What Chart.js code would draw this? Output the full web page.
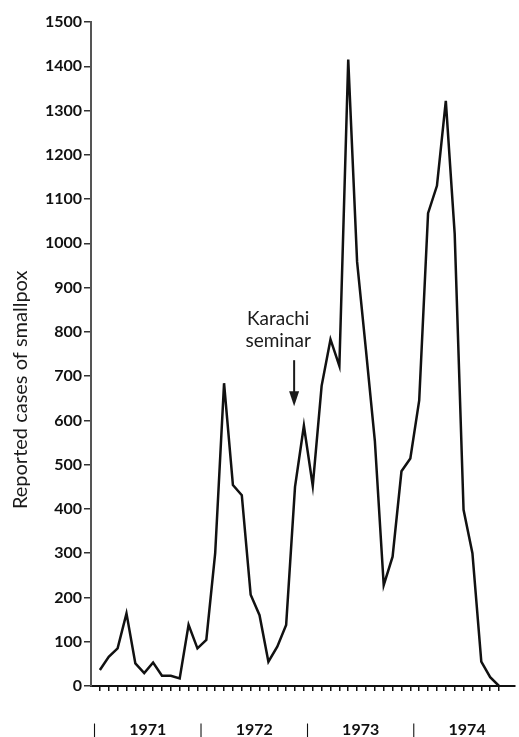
<!DOCTYPE html>
<html>
<head>
<meta charset="utf-8">
<script src="https://cdn.jsdelivr.net/npm/chart.js@4.4.1/dist/chart.umd.min.js"></script>
<style>
  html, body { margin: 0; padding: 0; background: #fff; }
  #chartWrap { width: 519px; height: 737px; }
</style>
</head>
<body>
<div id="chartWrap"><canvas id="smallpoxChart"></canvas></div>
<script>
// monthly reported smallpox cases
const years = ['1971', '1972', '1973', '1974'];
const monthNames = ['Jan', 'Feb', 'Mar', 'Apr', 'May', 'Jun', 'Jul', 'Aug', 'Sep', 'Oct', 'Nov', 'Dec'];
const cases1971 = [36, 66, 85, 164, 51, 29, 53, 23, 23, 17, 138, 85];
const cases1972 = [104, 300, 684, 454, 431, 206, 160, 55, 89, 138, 450, 588];
const cases1973 = [452, 678, 783, 723, 1415, 958, 758, 554, 228, 292, 485, 514];
const cases1974 = [645, 1068, 1130, 1322, 1022, 398, 300, 55, 20, 0];
const yTicks = [0, 100, 200, 300, 400, 500, 600, 700, 800, 900, 1000, 1100, 1200, 1300, 1400, 1500];

const cases = [...cases1971, ...cases1972, ...cases1973, ...cases1974];
const monthLabels = years.flatMap(yr => monthNames.map(m => m + ' ' + yr)).slice(0, cases.length);

// x is month index (0 = Jan 1971)
const xMin = -1;
const xMax = 46.8;
const noteMonth = 21.9;      // arrow points at Nov 1972
const noteTextMonth = 20.1;

const fontFamily = 'Lato, "Open Sans", sans-serif';

const karachiNote = {
    id: 'karachiNote',
    afterDatasetsDraw(chart) {
        const { ctx, scales: { x, y } } = chart;
        ctx.save();
        ctx.fillStyle = '#1a1a1a';
        ctx.strokeStyle = '#1a1a1a';
        ctx.font = '19px ' + fontFamily;
        ctx.textAlign = 'center';
        ctx.textBaseline = 'middle';
        const tx = x.getPixelForValue(noteTextMonth);
        ctx.fillText('Karachi', tx, y.getPixelForValue(830));
        ctx.fillText('seminar', tx, y.getPixelForValue(780));

        const ax = x.getPixelForValue(noteMonth);
        const top = y.getPixelForValue(736);
        const tip = y.getPixelForValue(632);
        ctx.lineWidth = 2;
        ctx.beginPath();
        ctx.moveTo(ax, top);
        ctx.lineTo(ax, tip - 12);
        ctx.stroke();
        ctx.beginPath();
        ctx.moveTo(ax - 5, tip - 15);
        ctx.lineTo(ax + 5, tip - 15);
        ctx.lineTo(ax, tip);
        ctx.closePath();
        ctx.fill();
        ctx.restore();
    }
};

const chartEl = document.getElementById('smallpoxChart');

new Chart(chartEl, {
    type: 'line',
    data: {
        datasets: [{
            label: 'Reported cases of smallpox',
            data: cases.map((v, i) => ({ x: i, y: v })),
            borderColor: '#111',
            borderWidth: 2.5,
            pointRadius: 0,
            tension: 0,
            fill: false
        }]
    },
    options: {
        responsive: true,
        maintainAspectRatio: false,
        devicePixelRatio: 1,
        animation: false,
        layout: { padding: { top: 22, right: 4, bottom: 0, left: 0 } },
        plugins: {
            legend: { display: false },
            tooltip: { enabled: false }
        },
        scales: {
            x: {
                type: 'linear',
                position: 'bottom',
                weight: 0,
                min: xMin,
                max: xMax,
                afterBuildTicks: scale => {
                    scale.ticks = monthLabels.map((m, i) => ({ value: i }));
                },
                afterFit: scale => { scale.height = 10; },
                ticks: { display: false },
                grid: {
                    drawOnChartArea: false,
                    tickLength: 5,
                    color: '#111',
                    lineWidth: 1.5
                },
                border: { color: '#111', width: 2 }
            },
            years: {
                type: 'linear',
                position: 'bottom',
                weight: 1,
                min: xMin,
                max: xMax,
                afterBuildTicks: scale => {
                    const t = [];
                    years.forEach((yr, k) => {
                        t.push({ value: -0.6 + 12 * k });
                        t.push({ value: 5.4 + 12 * k });
                    });
                    scale.ticks = t;
                },
                afterFit: scale => { scale.height = 41; },
                ticks: {
                    autoSkip: false,
                    maxRotation: 0,
                    padding: 24,
                    color: '#111',
                    font: ctx => ({
                        family: fontFamily,
                        size: 16,
                        weight: ctx.index % 2 === 0 ? 'normal' : 'bold'
                    }),
                    callback: (value, index) => index % 2 === 0 ? '|' : years[(index - 1) / 2]
                },
                grid: { display: false, drawTicks: false },
                border: { display: false }
            },
            y: {
                min: 0,
                max: 1500,
                afterBuildTicks: scale => {
                    scale.ticks = yTicks.map(v => ({ value: v }));
                },
                afterFit: scale => { scale.width = 91; },
                ticks: {
                    padding: 2,
                    color: '#111',
                    font: { family: fontFamily, size: 16, weight: 'bold' },
                    callback: value => String(value)
                },
                grid: {
                    drawOnChartArea: false,
                    tickLength: 7,
                    color: '#333',
                    lineWidth: 1.5
                },
                border: { color: '#555', width: 2 },
                title: {
                    display: true,
                    // trailing spaces nudge the rotated title lower, as in the original
                    text: 'Reported cases of smallpox' + '\u00a0'.repeat(14),
                    color: '#1a1a1a',
                    font: { family: fontFamily, size: 20 },
                    padding: { top: 9, bottom: 0 }
                }
            }
        }
    },
    plugins: [karachiNote]
});
</script>
</body>
</html>
